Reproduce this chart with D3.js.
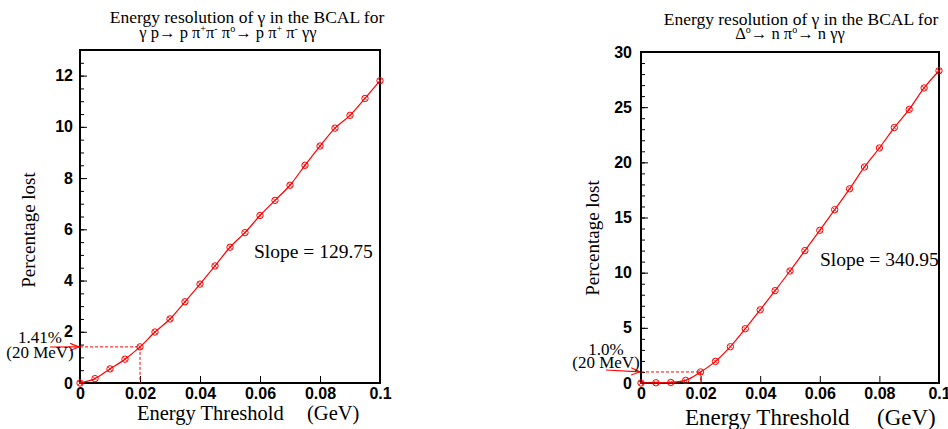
<!DOCTYPE html>
<html><head><meta charset="utf-8">
<script src="https://cdn.jsdelivr.net/npm/d3@7"></script>
<style>
body{margin:0;background:#fff;}
svg{display:block;}
.tick text{font-family:"Liberation Sans",Arial,sans-serif;font-weight:bold;font-size:16px;fill:#000;}
.serif{font-family:"Liberation Serif","Times New Roman",serif;fill:#000;}
</style>
</head><body>
<svg id="c" width="948" height="429"></svg>
<script>
const thresholds = [0, 0.005, 0.01, 0.015, 0.02, 0.025, 0.03, 0.035, 0.04, 0.045, 0.05,
                    0.055, 0.06, 0.065, 0.07, 0.075, 0.08, 0.085, 0.09, 0.095, 0.1];
const lostOmega = [0.0, 0.17, 0.55, 0.93, 1.41, 1.99, 2.50, 3.17, 3.86, 4.57, 5.30,
                   5.87, 6.54, 7.13, 7.72, 8.50, 9.25, 9.95, 10.45, 11.11, 11.80];
const lostDelta = [0.0, 0.02, 0.05, 0.24, 1.0, 1.96, 3.29, 4.92, 6.63, 8.37, 10.15,
                   12.0, 13.84, 15.71, 17.6, 19.58, 21.3, 23.15, 24.8, 26.74, 28.3];
const xTicks = [0, 0.02, 0.04, 0.06, 0.08, 0.1];
const yTicksOmega = [0, 2, 4, 6, 8, 10, 12];
const yTicksDelta = [0, 5, 10, 15, 20, 25, 30];
const slopes = ["Slope = 129.75", "Slope = 340.95"];
const notes = [["1.41%", "(20 MeV)"], ["1.0%", "(20 MeV)"]];
const noteValues = [1.41, 1.0];
const yLabel = "Percentage lost";
const xLabel = "Energy Threshold", xUnit = "(GeV)";

const svg = d3.select("#c");
const red = "#ff0000";

svg.append("defs").append("marker")
  .attr("id","arr").attr("viewBox","0 0 10 10").attr("refX",10).attr("refY",5)
  .attr("markerWidth",9).attr("markerHeight",9).attr("orient","auto").attr("markerUnits","userSpaceOnUse")
  .append("path").attr("d","M0,1 L10,5 L0,9").attr("fill","none").attr("stroke",red).attr("stroke-width",1.2);

const panels = [
  {left:80, right:380, top:50, bottom:383, ymax:13, vals:lostOmega, yTicks:yTicksOmega, minorStep:0.5,
   title1:{x:247, y:23}, title2:{x:228, y:38}, ylab:{x:35, y:230},
   xlab:{x:137, y:420, fs:20.5}, xunit:{x:307}, slope:{x:254, y:258},
   note:{x1:40, y1:343, y2:358, ax1:50, ay1:347}},
  {left:641, right:939, top:52, bottom:383, ymax:30, vals:lostDelta, yTicks:yTicksDelta, minorStep:1,
   title1:{x:801, y:25}, title2:{x:790, y:39}, ylab:{x:599, y:238},
   xlab:{x:685, y:425, fs:23}, xunit:{x:877}, slope:{x:820, y:266},
   note:{x1:606, y1:355, y2:368, ax1:606, ay1:370}}
];

panels.forEach((p, i) => {
  const x = d3.scaleLinear().domain([0, 0.1]).range([p.left, p.right]);
  const y = d3.scaleLinear().domain([0, p.ymax]).range([p.bottom, p.top]);
  const g = svg.append("g");

  const minor = d3.range(0, p.ymax + 1e-9, p.minorStep);
  g.append("g").attr("transform",`translate(${p.left},0)`)
    .call(d3.axisLeft(y).tickValues(minor).tickSize(-4).tickFormat(""))
    .call(a => a.select(".domain").remove())
    .selectAll("line").attr("stroke","#000").attr("stroke-width",1);
  g.append("g").attr("transform",`translate(${p.left},0)`)
    .call(d3.axisLeft(y).tickValues(p.yTicks).tickSize(-7).tickPadding(i===0?7:9).tickFormat(d=>d))
    .call(a => a.select(".domain").remove())
    .selectAll("line").attr("stroke","#000").attr("stroke-width",1);
  g.append("g").attr("transform",`translate(0,${p.bottom})`)
    .call(d3.axisBottom(x).tickValues(xTicks).tickSize(-7).tickPadding(5).tickFormat(d=>d))
    .call(a => a.select(".domain").remove())
    .selectAll("line").attr("stroke","#000").attr("stroke-width",1);

  g.append("rect").attr("x",p.left).attr("y",p.top).attr("width",p.right-p.left).attr("height",p.bottom-p.top)
    .attr("fill","none").attr("stroke","#000").attr("stroke-width",2);

  const gx = x(0.02), gy = y(noteValues[i]);
  g.append("path").attr("d",`M${p.left},${gy}H${gx}V${p.bottom}`)
    .attr("fill","none").attr("stroke",red).attr("stroke-width",1).attr("stroke-dasharray","3,2");

  const pts = thresholds.map((t,k)=>[t,p.vals[k]]);
  g.append("path").datum(pts)
    .attr("d", d3.line().x(d=>x(d[0])).y(d=>y(d[1])).curve(d3.curveMonotoneX))
    .attr("fill","none").attr("stroke",red).attr("stroke-width",1.2);
  const mk = g.selectAll("g.mk").data(pts).join("g").attr("class","mk")
    .attr("transform",d=>`translate(${x(d[0])},${y(d[1])})`);
  mk.append("circle").attr("r",3.2).attr("fill","none").attr("stroke",red).attr("stroke-width",1);
  mk.append("path").attr("d","M-2,-2L2,2M-2,2L2,-2").attr("stroke",red).attr("stroke-width",0.8);

  g.append("line").attr("x1",p.note.ax1).attr("y1",p.note.ay1).attr("x2",p.left-1).attr("y2",gy)
    .attr("stroke",red).attr("stroke-width",1.2).attr("marker-end","url(#arr)");
  g.append("text").attr("class","serif").attr("x",p.note.x1).attr("y",p.note.y1)
    .attr("text-anchor","middle").attr("font-size",17).text(notes[i][0]);
  g.append("text").attr("class","serif").attr("x",p.note.x1).attr("y",p.note.y2)
    .attr("text-anchor","middle").attr("font-size",17).text(notes[i][1]);

  g.append("text").attr("class","serif").attr("x",p.slope.x).attr("y",p.slope.y)
    .attr("font-size",19.5).text(slopes[i]);

  g.append("text").attr("class","serif").attr("transform",`translate(${p.ylab.x},${p.ylab.y}) rotate(-90)`)
    .attr("text-anchor","middle").attr("font-size",19).text(yLabel);
  g.append("text").attr("class","serif").attr("x",p.xlab.x).attr("y",p.xlab.y)
    .attr("font-size",p.xlab.fs).text(xLabel);
  g.append("text").attr("class","serif").attr("x",p.xunit.x).attr("y",p.xlab.y)
    .attr("font-size",p.xlab.fs).text(xUnit);

  g.append("text").attr("class","serif").attr("x",p.title1.x).attr("y",p.title1.y)
    .attr("text-anchor","middle").attr("font-size",17.5).text("Energy resolution of γ in the BCAL for");
});

function richLine(x0, y0, parts){
  const t = svg.append("text").attr("class","serif").attr("x",x0).attr("y",y0)
    .attr("text-anchor","middle").attr("font-size",16.5);
  let raised = false;
  parts.forEach(([s,sup]) => {
    const ts = t.append("tspan").text(s);
    if (sup) { ts.attr("font-size",10).attr("dy", raised ? 0 : -6); raised = true; }
    else { if (raised) ts.attr("dy",6); raised = false; }
  });
}
richLine(panels[0].title2.x, panels[0].title2.y,
  [["γ p→ p π"],["+",1],["π"],["-",1],[" π"],["o",1],["→ p π"],["+",1],[" π"],["-",1],[" γγ"]]);
richLine(panels[1].title2.x, panels[1].title2.y,
  [["Δ"],["o",1],["→ n π"],["o",1],["→ n γγ"]]);
</script>
</body></html>
